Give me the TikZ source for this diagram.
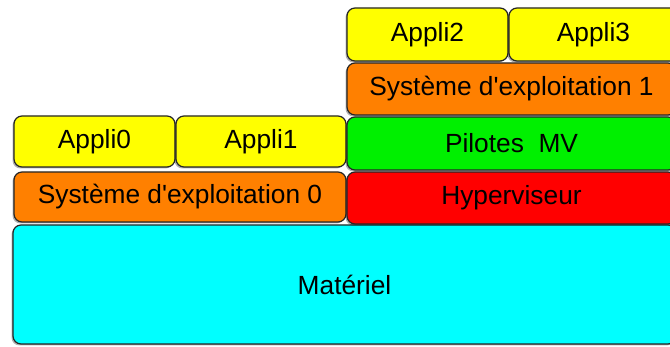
\documentclass[tikz,border=0pt]{standalone}
\usepackage{fontspec}
\setmainfont{Liberation Sans}
\usetikzlibrary{shadows}
\definecolor{cyel}{RGB}{255,255,0}
\definecolor{corg}{RGB}{255,128,0}
\definecolor{cgrn}{RGB}{0,240,0}
\definecolor{cred}{RGB}{255,0,0}
\definecolor{ccya}{RGB}{0,255,255}
\tikzset{
  layer/.style={draw=black!85, line width=1.2pt, rounded corners=8pt, inner sep=0pt,
    font=\fontsize{26.3}{29}\selectfont, text=black,
    drop shadow={shadow xshift=-1.5pt, shadow yshift=-1.5pt, opacity=0.3, fill=black}},
}
\begin{document}
\begin{tikzpicture}[x=1pt,y=1pt]
\useasboundingbox (0,0) rectangle (670,347);
\clip (0,0) rectangle (670,347);
\fill[white] (0,0) rectangle (670,347);
% Materiel
\node[layer, fill=ccya, minimum width=663pt, minimum height=119pt] (mat) at (344.5,62.5) {Matériel};
% left stack
\node[layer, fill=corg, minimum width=332pt, minimum height=50pt] (se0) at (180,150) {Système d\textquotesingle exploitation 0};
\node[layer, fill=cyel, minimum width=161pt, minimum height=51pt] (a0) at (94.5,205.5) {Appli0};
\node[layer, fill=cyel, minimum width=170pt, minimum height=51pt] (a1) at (261,205.5) {Appli1};
% right stack
\node[layer, fill=cred, minimum width=329pt, minimum height=52pt] (hyp) at (511.5,149) {Hyperviseur};
\node[layer, fill=cgrn, minimum width=329pt, minimum height=53pt] (pil) at (511.5,203.5) {Pilotes\ \ MV};
\node[layer, fill=corg, minimum width=329pt, minimum height=52pt] (se1) at (511.5,258) {Système d\textquotesingle exploitation 1};
\node[layer, fill=cyel, minimum width=161pt, minimum height=53pt] (a2) at (427.5,312.5) {Appli2};
\node[layer, fill=cyel, minimum width=169pt, minimum height=53pt] (a3) at (593.5,312.5) {Appli3};
\end{tikzpicture}
\end{document}
